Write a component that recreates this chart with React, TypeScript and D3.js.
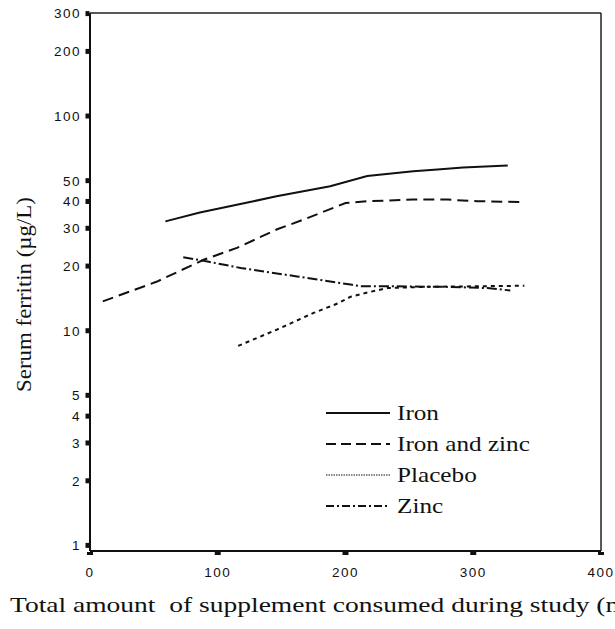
import React from 'react';
import * as d3 from 'd3';

// values: total supplement (ml) vs serum ferritin (µg/L)
const ironX = [59, 86, 128, 146, 188, 217, 253, 272, 292, 327];
const ironY = [32.3, 35.5, 40.1, 42.3, 47.1, 52.5, 55.3, 56.4, 57.6, 58.9];

const ironZincX = [10, 52, 89, 115, 146, 167, 200, 217, 253, 280, 303, 336];
const ironZincY = [13.7, 16.9, 21.4, 24.3, 29.6, 32.9, 39.3, 40.1, 40.8, 40.8, 40.1, 39.8];

const placeboX = [116, 146, 175, 194, 204, 220, 233, 260, 300, 340];
const placeboY = [8.5, 10.1, 12.1, 13.4, 14.4, 15.2, 15.8, 16.0, 16.1, 16.2];

const zincX = [73, 92, 118, 162, 178, 204, 212, 240, 280, 311, 329];
const zincY = [22.0, 21.0, 19.6, 17.9, 17.3, 16.4, 16.1, 16.1, 16.0, 15.8, 15.4];

const yTicks = [1, 2, 3, 4, 5, 10, 20, 30, 40, 50, 100, 200, 300];
const xTicks = [0, 100, 200, 300, 400];

const seriesNames = ['Iron', 'Iron and zinc', 'Placebo', 'Zinc'];
const dashes = ['none', '11,6', '4,4', '10,3,2,3'];
const legendDashes = ['none', '10,5', '1.5,1', '8,3,2,3'];

const W = 615, H = 629;
const left = 90, right = 601, top = 13, bottom = 551;

const App = () => {
  const x = d3.scaleLinear().domain([0, 400]).range([left, right]);
  const y = d3.scaleLog().domain([1, 300]).range([545.4, 13.6]);

  const line = d3.line<[number, number]>()
    .x(d => x(d[0]))
    .y(d => y(d[1]));

  const zip = (xs: number[], ys: number[]) => xs.map((v, i) => [v, ys[i]] as [number, number]);
  const series = [
    zip(ironX, ironY),
    zip(ironZincX, ironZincY),
    zip(placeboX, placeboY),
    zip(zincX, zincY),
  ];

  const tickFont = "'Liberation Sans', Arial, sans-serif";
  const serif = "'Liberation Serif', 'Times New Roman', serif";

  return (
    <svg width={W} height={H} style={{ position: 'absolute', left: 0, top: 0, background: '#fff' }}>
      {/* frame */}
      <line x1={left} x2={left} y1={top} y2={bottom} stroke="#111" strokeWidth={2} />
      <line x1={left} x2={right} y1={bottom} y2={bottom} stroke="#111" strokeWidth={2} />
      <line x1={left} x2={right} y1={top} y2={top} stroke="#222" strokeWidth={1.5} />
      <line x1={right} x2={right} y1={top} y2={bottom} stroke="#222" strokeWidth={1.5} />

      {/* y ticks */}
      {yTicks.map(t => (
        <g key={'y' + t}>
          <rect x={left - 4.5} y={y(t) - 2.5} width={4} height={5} fill="#111" />
          <text x={left - 9} y={y(t)} dy="0.36em" textAnchor="end"
            fontFamily={tickFont} fontSize={13.5} letterSpacing={1.5} fill="#111">{t}</text>
        </g>
      ))}

      {/* x ticks */}
      {xTicks.map(t => (
        <g key={'x' + t}>
          <rect x={x(t) - 3} y={bottom + 1} width={6} height={3} fill="#111" />
          <text x={x(t)} y={bottom + 26} textAnchor="middle"
            fontFamily={tickFont} fontSize={13.5} letterSpacing={1.5} fill="#111">{t}</text>
        </g>
      ))}

      {/* series */}
      {series.map((s, i) => (
        <path key={seriesNames[i]} d={line(s) || ''} fill="none" stroke="#111"
          strokeWidth={2} strokeDasharray={dashes[i]} />
      ))}

      {/* legend */}
      {seriesNames.map((name, i) => {
        const ly = 413 + i * 31;
        return (
          <g key={'leg' + name}>
            <line x1={326} x2={390} y1={ly} y2={ly} stroke="#111"
              strokeWidth={i === 2 ? 1.2 : 1.8} strokeDasharray={legendDashes[i]} />
            <text transform={`translate(397, ${ly}) scale(1.2, 1)`} dy="0.33em"
              fontFamily={serif} fontSize={21} fill="#111">{name}</text>
          </g>
        );
      })}

      {/* axis titles */}
      <text transform={`translate(31, ${(187 + 402) / 2}) rotate(-90) scale(1.09, 1)`} textAnchor="middle"
        fontFamily={serif} fontSize={21} fill="#111">Serum ferritin (µg/L)</text>
      <text transform="translate(10, 612) scale(1.31, 1)" fontFamily={serif} fontSize={21} fill="#111"
        xmlSpace="preserve">Total amount  of supplement consumed during study (ml)</text>
    </svg>
  );
};

export default App;
